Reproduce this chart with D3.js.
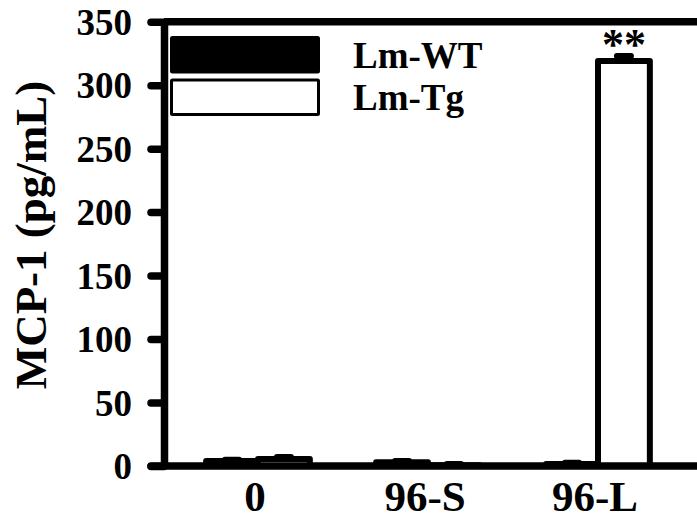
<!DOCTYPE html>
<html>
<head>
<meta charset="utf-8">
<script src="https://cdn.jsdelivr.net/npm/d3@7"></script>
<style>
  body { margin: 0; background: #fff; }
  text { font-family: 'Liberation Serif', 'Times New Roman', serif; font-weight: bold; }
</style>
</head>
<body>
<div id="chart"></div>
<script>
const categories = ['0', '96-S', '96-L']
const seriesNames = ['Lm-WT', 'Lm-Tg']
const wtValues = [4, 3, 1.5]
const tgValues = [5.5, 0.5, 319]
const wtErrors = [1, 1, 1]
const tgErrors = [1.5, 1, 4]
const yTicks = [0, 50, 100, 150, 200, 250, 300, 350]
const stars = ['', '', '**']

const width = 697
const height = 521
const svg = d3.select('#chart').append('svg')
  .attr('width', width).attr('height', height)

// scales
const y = d3.scaleLinear().domain([0, 350]).range([466, 21.7])
const x0 = d3.scaleBand().domain(categories).range([173, 683])
  .paddingInner(0.39).paddingOuter(0.195)
const x1 = d3.scaleBand().domain(seriesNames).range([0, x0.bandwidth()])

const axisX = 164
const lw = 7.5

// frame: top line runs off the right edge
svg.append('line').attr('x1', axisX).attr('x2', width + 10)
  .attr('y1', y(350)).attr('y2', y(350))
  .attr('stroke', '#000').attr('stroke-width', lw)

// bars
const rows = categories.map((c, i) => [
  { cat: c, key: 'Lm-WT', value: wtValues[i], err: wtErrors[i], fill: '#000' },
  { cat: c, key: 'Lm-Tg', value: tgValues[i], err: tgErrors[i], fill: '#fff' }
]).flat()

const bars = svg.append('g')
bars.selectAll('line.err').data(rows).enter().append('line')
  .attr('class', 'err')
  .attr('x1', d => x0(d.cat) + x1(d.key) + x1.bandwidth() / 2 - 7)
  .attr('x2', d => x0(d.cat) + x1(d.key) + x1.bandwidth() / 2 + 7)
  .attr('y1', d => y(d.value + d.err))
  .attr('y2', d => y(d.value + d.err))
  .attr('stroke', '#000').attr('stroke-width', 6).attr('stroke-linecap', 'round')

bars.selectAll('rect').data(rows).enter().append('rect')
  .attr('x', d => x0(d.cat) + x1(d.key))
  .attr('y', d => y(d.value))
  .attr('width', x1.bandwidth())
  .attr('height', d => y(0) - y(d.value))
  .attr('fill', d => d.fill)
  .attr('stroke', '#000').attr('stroke-width', 6).attr('stroke-linejoin', 'round')

// significance stars
bars.selectAll('text.star').data(categories).enter().append('text')
  .attr('class', 'star')
  .attr('x', d => x0(d) + x1('Lm-Tg') + x1.bandwidth() / 2)
  .attr('y', (d, i) => y(tgValues[i]) - 2)
  .attr('text-anchor', 'middle')
  .attr('font-size', '44px')
  .text((d, i) => stars[i])

// x axis line
svg.append('line').attr('x1', 151).attr('x2', width + 10)
  .attr('y1', y(0)).attr('y2', y(0))
  .attr('stroke', '#000').attr('stroke-width', lw).attr('stroke-linecap', 'round')

// y axis
const yAxis = svg.append('g').attr('transform', `translate(${axisX},0)`)
  .call(d3.axisLeft(y).tickValues(yTicks).tickSize(13).tickSizeOuter(0).tickPadding(19))
yAxis.select('.domain').attr('stroke-width', lw)
yAxis.selectAll('.tick line').attr('stroke-width', lw).attr('stroke-linecap', 'round')
yAxis.selectAll('.tick text').attr('font-size', '37px').attr('fill', '#000')
  .attr('dy', '0.34em')

// x labels
svg.append('g').selectAll('text').data(categories).enter().append('text')
  .attr('x', d => x0(d) + x0.bandwidth() / 2 - 3)
  .attr('y', 511)
  .attr('text-anchor', 'middle')
  .attr('font-size', '43px')
  .text(d => d)

// y label
svg.append('text')
  .attr('transform', 'translate(46,235) rotate(-90)')
  .attr('text-anchor', 'middle')
  .attr('font-size', '45px')
  .text('MCP-1 (pg/mL)')

// legend
const legend = svg.append('g')
const legendY = d3.scaleBand().domain(seriesNames).range([36, 116]).paddingInner(0.12)
legend.selectAll('rect').data(seriesNames).enter().append('rect')
  .attr('x', 171.5)
  .attr('y', d => legendY(d) + 1.5)
  .attr('width', 147)
  .attr('height', legendY.bandwidth() - 3)
  .attr('fill', (d, i) => i === 0 ? '#000' : '#fff')
  .attr('stroke', '#000').attr('stroke-width', 3).attr('rx', 1)
legend.selectAll('text').data(seriesNames).enter().append('text')
  .attr('x', 353)
  .attr('y', (d, i) => legendY(d) + legendY.bandwidth() / 2 + 13)
  .attr('font-size', '37px')
  .text(d => d)
</script>
</body>
</html>
